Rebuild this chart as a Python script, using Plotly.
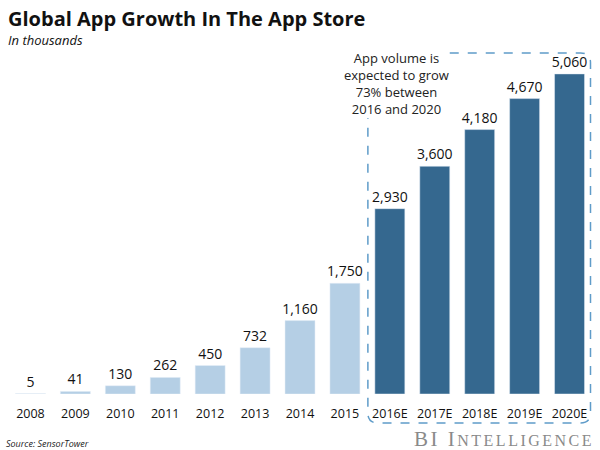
import plotly.graph_objects as go

years = ["2008", "2009", "2010", "2011", "2012", "2013", "2014", "2015",
         "2016E", "2017E", "2018E", "2019E", "2020E"]
apps = [5, 41, 130, 262, 450, 732, 1160, 1750, 2930, 3600, 4180, 4670, 5060]
is_forecast = [False] * 8 + [True] * 5

LIGHT = "#b5cfe5"
DARK = "#35688f"
colors = [DARK if f else LIGHT for f in is_forecast]
labels = [f"{v:,}" for v in apps]

W, H = 600, 450
L, R, T, B = 7.5, 7.5, 60, 56
pw, ph = W - L - R, H - T - B

def px(x):
    return (x - L) / pw

def py(y):
    return (H - B - y) / ph

fig = go.Figure(go.Bar(
    x=years, y=apps, marker_color=colors, text=labels,
    textposition="outside", cliponaxis=False, constraintext="none",
    textfont=dict(size=14, color="#111111", family="Open Sans"),
    width=0.667, hoverinfo="skip",
))

# dashed rounded box around forecasts
r = 10
x0, x1, y0, y1 = 368, 591, 53, 423
xs = 450
path = (f"M {px(xs)} {py(y0)} L {px(x1 - r)} {py(y0)} "
        f"Q {px(x1)} {py(y0)} {px(x1)} {py(y0 + r)} "
        f"L {px(x1)} {py(y1 - r)} Q {px(x1)} {py(y1)} {px(x1 - r)} {py(y1)} "
        f"L {px(x0 + r)} {py(y1)} Q {px(x0)} {py(y1)} {px(x0)} {py(y1 - r)} "
        f"L {px(x0)} {py(118)}")
fig.add_shape(type="path", path=path, xref="paper", yref="paper",
              line=dict(color="#5f9cc9", width=1.5, dash="dash"))

def ann(text, x, y, size, family="Open Sans", color="#111111", xanchor="left", align="left"):
    fig.add_annotation(text=text, x=px(x), y=py(y), xref="paper", yref="paper",
                       xanchor=xanchor, yanchor="middle", showarrow=False, align=align,
                       font=dict(size=size, color=color, family=family))

ann("App volume is<br>expected to grow<br>73% between<br>2016 and 2020",
    397, 83, 13, color="#222222", xanchor="center", align="center")
ann("<b>Global App Growth In The App Store</b>", 5, 18, 20)
ann("<i>In thousands</i>", 5, 40, 13)
ann("<i>Source: SensorTower</i>", 3, 443, 9, color="#222222")
ann("<span style='letter-spacing:2.5px'>BI I</span>"
    "<span style='font-size:16px;letter-spacing:2.5px'>NTELLIGENCE</span>",
    597, 439, 21, family="Liberation Serif", color="#8a8a8a", xanchor="right")

fig.update_layout(
    width=W, height=H, margin=dict(l=L, r=R, t=T, b=B),
    paper_bgcolor="white", plot_bgcolor="white", showlegend=False,
    bargap=0.33,
    xaxis=dict(showline=False, ticks="", ticklabelstandoff=10,
               tickfont=dict(size=12.5, color="#111111", family="Open Sans")),
    yaxis=dict(visible=False, range=[0, 5280]),
)

fig.write_html("out.html")
